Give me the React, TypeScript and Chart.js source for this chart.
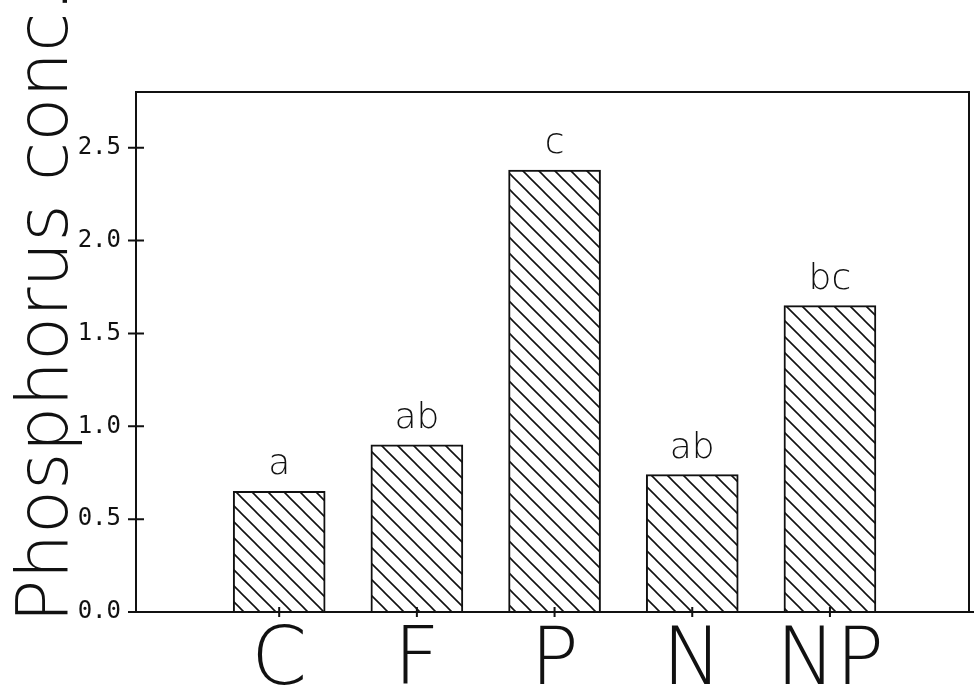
import React, { useEffect, useRef } from 'react';
import { Chart, registerables } from 'chart.js';

Chart.register(...registerables);

// ---- data ----
const categories = ['C', 'F', 'P', 'N', 'NP'];
const values = [0.65, 0.9, 2.38, 0.74, 1.65];
const letters = ['a', 'ab', 'c', 'ab', 'bc'];
const yTicks = [0, 0.5, 1.0, 1.5, 2.0, 2.5];
const yTitle = 'Phosphorus conc.';
const Y_MIN = 0;
const Y_MAX = 2.8;
const X_MIN = -1.04;
const X_MAX = 5.01;

const INK = '#111';
const FAMILY = '"DejaVu Sans", sans-serif';

function makePattern(): CanvasPattern | string {
  const s = 16;
  const c = document.createElement('canvas');
  c.width = s;
  c.height = s;
  const g = c.getContext('2d');
  if (!g) return '#fff';
  g.fillStyle = '#fff';
  g.fillRect(0, 0, s, s);
  g.strokeStyle = INK;
  g.lineWidth = 1.6;
  g.beginPath();
  g.moveTo(-2, -2);
  g.lineTo(s + 2, s + 2);
  g.moveTo(s - 2, -2);
  g.lineTo(s + 2, 2);
  g.moveTo(-2, s - 2);
  g.lineTo(2, s + 2);
  g.stroke();
  return g.createPattern(c, 'repeat') || '#fff';
}

const decor = {
  id: 'decor',
  beforeDatasetsDraw(chart: any) {
    const { ctx, chartArea: a } = chart;
    ctx.save();
    ctx.strokeStyle = INK;
    ctx.lineWidth = 2;
    ctx.beginPath();
    ctx.moveTo(a.left, a.bottom);
    ctx.lineTo(a.left, a.top);
    ctx.lineTo(a.right, a.top);
    ctx.lineTo(a.right, a.bottom);
    ctx.stroke();
    ctx.restore();
  },
  afterDatasetsDraw(chart: any) {
    const { ctx, chartArea: a, scales } = chart;
    const xs = scales.x;
    const ys = scales.y;
    ctx.save();
    ctx.strokeStyle = INK;
    ctx.fillStyle = INK;
    ctx.lineWidth = 2;
    // bottom axis line (runs to the canvas edge)
    ctx.beginPath();
    ctx.moveTo(a.left, a.bottom);
    ctx.lineTo(chart.width, a.bottom);
    ctx.stroke();
    // y ticks crossing the axis
    ctx.beginPath();
    yTicks.forEach((v) => {
      const y = ys.getPixelForValue(v);
      ctx.moveTo(a.left - 8, y);
      ctx.lineTo(a.left + 8, y);
    });
    // x ticks at category centres
    categories.forEach((_, i) => {
      const x = xs.getPixelForValue(i);
      ctx.moveTo(x, a.bottom - 5);
      ctx.lineTo(x, a.bottom + 5);
    });
    ctx.stroke();
    // significance letters above bars
    const meta = chart.getDatasetMeta(0);
    ctx.font = `200 36px ${FAMILY}`;
    ctx.textAlign = 'center';
    ctx.textBaseline = 'alphabetic';
    meta.data.forEach((bar: any, i: number) => {
      ctx.fillText(letters[i], bar.x, bar.y - 17);
    });
    // y-axis title
    ctx.translate(67, 623);
    ctx.rotate(-Math.PI / 2);
    ctx.font = `200 72px ${FAMILY}`;
    ctx.textAlign = 'left';
    ctx.textBaseline = 'alphabetic';
    ctx.fillText(yTitle, 0, 0);
    ctx.restore();
  },
};

export default function App() {
  const ref = useRef<HTMLCanvasElement | null>(null);

  useEffect(() => {
    const canvas = ref.current;
    if (!canvas) return;
    const pattern = makePattern();
    const chart = new Chart(canvas, {
      type: 'bar',
      data: {
        datasets: [
          {
            data: categories.map((_, i) => ({ x: i, y: values[i] })),
            backgroundColor: pattern as any,
            borderColor: INK,
            borderWidth: 2,
            borderSkipped: 'start',
            barThickness: 92,
          },
        ],
      },
      options: {
        responsive: false,
        animation: false,
        devicePixelRatio: 1,
        layout: { padding: { top: 92, right: 5, left: 0, bottom: 0 } },
        plugins: {
          legend: { display: false },
          tooltip: { enabled: false },
          title: { display: false },
        },
        scales: {
          x: {
            type: 'linear',
            offset: false,
            min: X_MIN,
            max: X_MAX,
            grid: { display: false, drawTicks: false, offset: false },
            border: { display: false },
            afterBuildTicks: (s: any) => {
              s.ticks = categories.map((_, i) => ({ value: i }));
            },
            afterFit: (s: any) => {
              s.height = 86;
            },
            ticks: {
              autoSkip: false,
              maxRotation: 0,
              minRotation: 0,
              padding: 11,
              color: INK,
              font: { family: FAMILY, size: 80, weight: '200' as any, lineHeight: 1 },
              callback: (v: any) => categories[Number(v)] ?? '',
            },
          },
          y: {
            type: 'linear',
            min: Y_MIN,
            max: Y_MAX,
            grid: { display: false, drawTicks: false },
            border: { display: false },
            afterBuildTicks: (s: any) => {
              s.ticks = yTicks.map((v) => ({ value: v }));
            },
            afterFit: (s: any) => {
              s.width = 136;
            },
            ticks: {
              padding: 15,
              color: INK,
              font: { family: '"DejaVu Sans Mono", monospace', size: 24 },
              callback: (v: any) => Number(v).toFixed(1),
            },
          },
        },
      },
      plugins: [decor],
    });
    return () => chart.destroy();
  }, []);

  return (
    <div style={{ position: 'fixed', left: 0, top: 0, width: 974, height: 698, background: '#fff' }}>
      <canvas ref={ref} width={974} height={698} style={{ width: 974, height: 698, display: 'block' }} />
    </div>
  );
}
